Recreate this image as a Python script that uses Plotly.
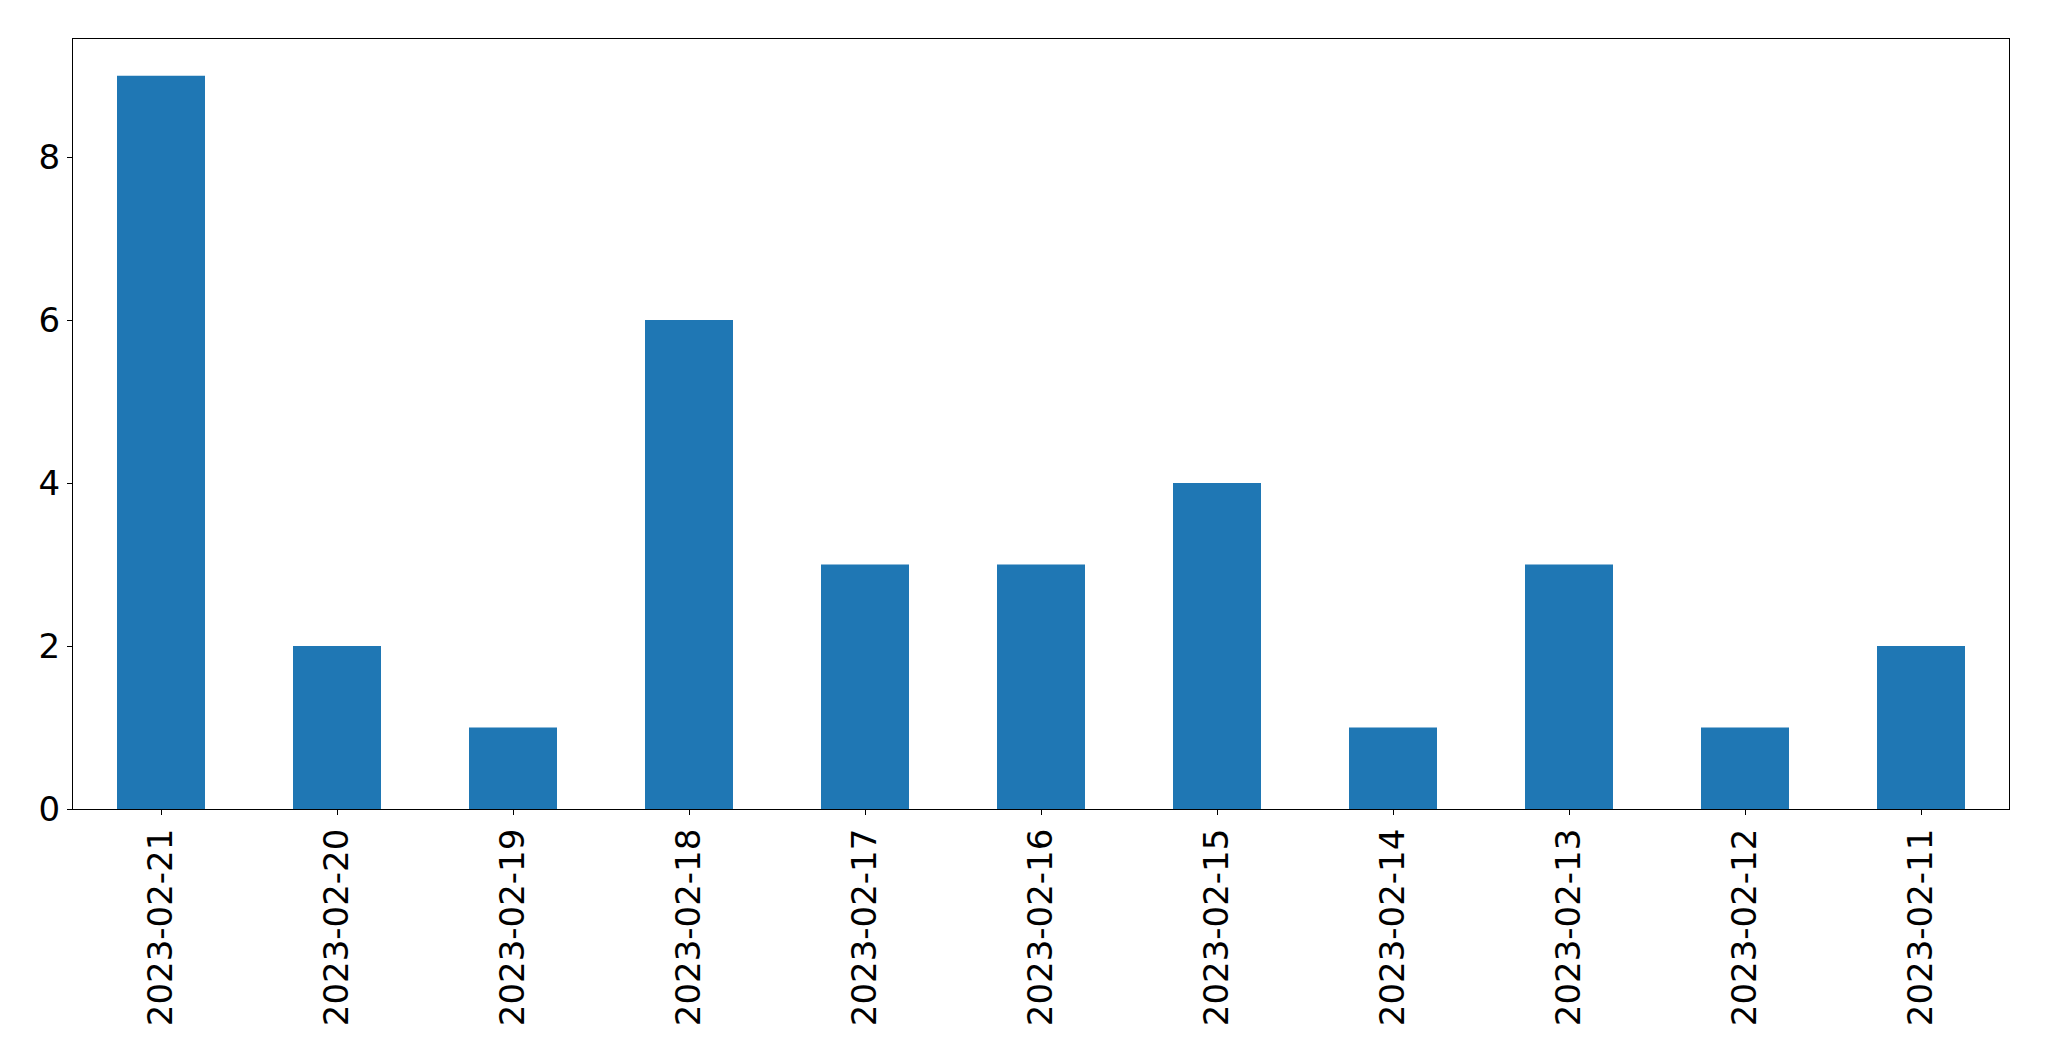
import plotly.graph_objects as go

categories = ["2023-02-21", "2023-02-20", "2023-02-19", "2023-02-18", "2023-02-17",
              "2023-02-16", "2023-02-15", "2023-02-14", "2023-02-13", "2023-02-12",
              "2023-02-11"]
counts = [9, 2, 1, 6, 3, 3, 4, 1, 3, 1, 2]
y_ticks = [0, 2, 4, 6, 8]

fig = go.Figure(go.Bar(
    x=categories, y=counts, width=0.5,
    marker=dict(color="#1f77b4", line=dict(width=0)),
))

font = dict(family="DejaVu Sans", size=34, color="black")
# page body has an 8px default margin, so the figure is offset by 8px
fig.update_layout(
    width=2041, height=1053,
    margin=dict(l=65, r=40, t=31, b=252),
    plot_bgcolor="white", paper_bgcolor="white",
    showlegend=False,
    font=font,
)
fig.update_xaxes(
    type="category", range=[-0.5, 10.5],
    showline=True, linecolor="black", linewidth=1.1, mirror=True,
    ticks="outside", ticklen=5, tickwidth=1.1, tickcolor="black",
    tickangle=-90, tickfont=font, showgrid=False, zeroline=False,
)
fig.update_yaxes(
    range=[0, 9.45], tickvals=y_ticks,
    showline=True, linecolor="black", linewidth=1.1, mirror=True,
    ticks="outside", ticklen=5, tickwidth=1.1, tickcolor="black",
    tickfont=font, showgrid=False, zeroline=False,
)
fig.write_html("out.html")
